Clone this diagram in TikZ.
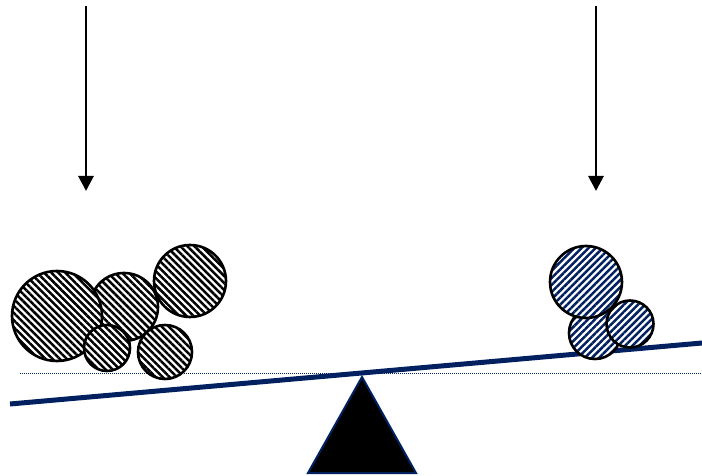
\documentclass[tikz,border=0pt]{standalone}
\usetikzlibrary{patterns.meta,arrows.meta}
\definecolor{navy}{RGB}{0,32,96}
\tikzset{
  ballL/.style={draw=black,line width=2.6pt,preaction={fill=white},pattern={Lines[angle=-45,distance=5pt,line width=2.5pt]},pattern color=black},
  ballR/.style={draw=black,line width=2.6pt,preaction={fill=white},pattern={Lines[angle=45,distance=5pt,line width=2.5pt]},pattern color=navy},
  force/.style={line width=2.8pt,-{Triangle[length=15pt,width=15pt]}},
}
\begin{document}
\begin{tikzpicture}[x=1pt,y=-1pt]
\useasboundingbox (0,0) rectangle (702,476);
% reference dotted line
\coordinate (d1) at (20,373);
\coordinate (d2) at (702,373);
\draw[navy,line width=1pt,dash pattern=on 1pt off 1pt] (d1) -- (d2);
% beam
\coordinate (b1) at (10,404);
\coordinate (b2) at (702,343);
\draw[navy,line width=5pt] (b1) -- (b2);
% fulcrum
\coordinate (apex) at (362,377);
\coordinate (bl) at (308,473);
\coordinate (br) at (416,473);
\draw[navy,line width=2pt,fill=black,line join=miter] (apex) -- (br) -- (bl) -- cycle;
% left balls
\path[ballL] (124,307) circle (34);
\path[ballL] (57,316) circle (45);
\path[ballL] (190,281) circle (36);
\path[ballL] (107,348) circle (23);
\path[ballL] (165,352) circle (27);
% right balls
\path[ballR] (595,333) circle (26);
\path[ballR] (586,282) circle (36);
\path[ballR] (630,324) circle (23.5);
% force arrows
\coordinate (a1s) at (86,6);
\coordinate (a1e) at (86,191);
\coordinate (a2s) at (596,6);
\coordinate (a2e) at (596,191);
\draw[force] (a1s) -- (a1e);
\draw[force] (a2s) -- (a2e);
\end{tikzpicture}
\end{document}
